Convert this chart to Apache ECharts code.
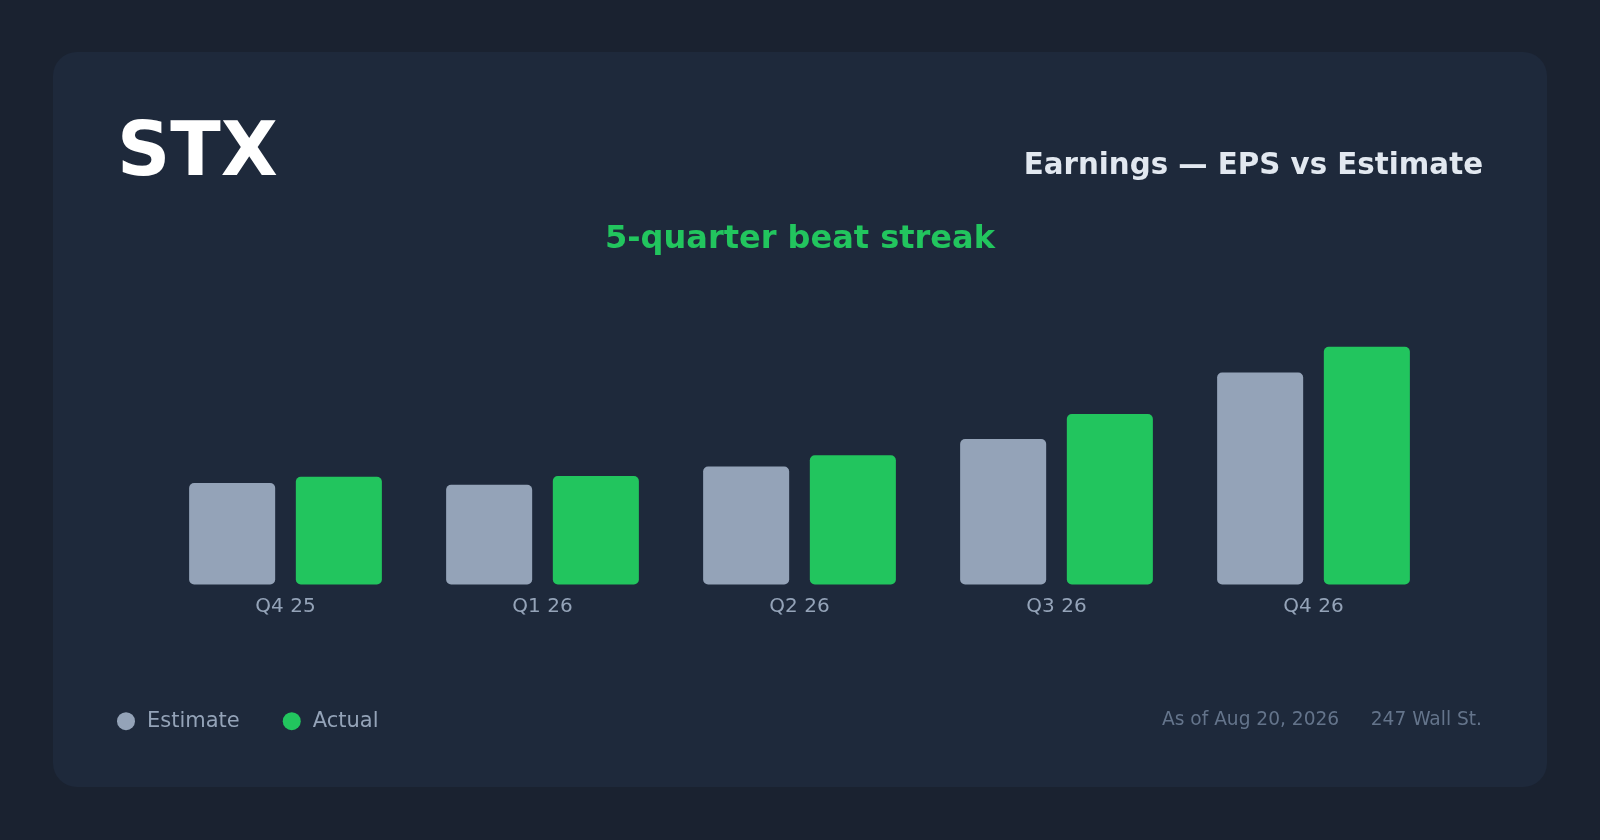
<!DOCTYPE html>
<html>
<head>
<meta charset="utf-8">
<title>STX Earnings</title>
<script src="https://cdn.jsdelivr.net/npm/echarts@6/dist/echarts.min.js"></script>
<style>
    html, body { margin: 0; padding: 0; background: #1a2230; }
    #chart { width: 1600px; height: 840px; }
</style>
</head>
<body>
<div id="chart"></div>
<script>
// quarters and EPS ($)
const quarters = ['Q4 25', 'Q1 26', 'Q2 26', 'Q3 26', 'Q4 26'];
const estimate = [2.44, 2.40, 2.84, 3.50, 5.10];
const actual = [2.59, 2.61, 3.11, 4.10, 5.72];

const font = 'DejaVu Sans';

let chart = echarts.init(document.getElementById('chart'));
chart.setOption({
    backgroundColor: '#1a2230',
    animation: false,
    textStyle: { fontFamily: font },
    graphic: [
        // card
        {
            type: 'rect', z: -10,
            shape: { x: 53, y: 52, width: 1494, height: 735, r: 24 },
            style: { fill: '#1e293b' }
        },
        {
            type: 'text', x: 117, y: 156,
            style: { text: 'STX', fill: '#ffffff', font: 'bold 74px "DejaVu Sans"', verticalAlign: 'middle' }
        },
        {
            type: 'text', x: 1483, y: 166.7,
            style: { text: 'Earnings — EPS vs Estimate', fill: '#e2e8f0', font: 'bold 29.3px "DejaVu Sans"', align: 'right', verticalAlign: 'middle' }
        },
        {
            type: 'text', x: 800, y: 239.6,
            style: { text: '5-quarter beat streak', fill: '#22c55e', font: 'bold 32px "DejaVu Sans"', align: 'center', verticalAlign: 'middle' }
        },
        {
            type: 'text', x: 1162, y: 720.5,
            style: { text: 'As of Aug 20, 2026', fill: '#64748b', font: '18.6px "DejaVu Sans"', verticalAlign: 'middle' }
        },
        {
            type: 'text', x: 1482, y: 720.5,
            style: { text: '247 Wall St.', fill: '#64748b', font: '18.6px "DejaVu Sans"', align: 'right', verticalAlign: 'middle' }
        }
    ],
    legend: {
        left: 112, top: 705.7,
        icon: 'circle',
        itemWidth: 28, itemHeight: 18,
        itemGap: 43,
        data: ['Estimate', 'Actual'],
        textStyle: { color: '#94a3b8', fontSize: 21, fontFamily: font, padding: [0, 0, 0, 2] }
    },
    grid: { left: 157, right: 158, top: 293.5, bottom: 255.5 },
    xAxis: {
        type: 'category',
        data: quarters,
        axisLine: { show: false },
        axisTick: { show: false },
        axisLabel: { color: '#94a3b8', fontSize: 20, margin: 12, fontFamily: font }
    },
    yAxis: {
        type: 'value',
        min: 0, max: 7,
        show: false,
        splitLine: { show: false }
    },
    series: [
        {
            name: 'Estimate',
            type: 'bar',
            data: estimate,
            barCategoryGap: '25%',
            barGap: '24%',
            itemStyle: { color: '#94a3b8', borderRadius: 5 }
        },
        {
            name: 'Actual',
            type: 'bar',
            data: actual,
            barCategoryGap: '25%',
            barGap: '24%',
            itemStyle: { color: '#22c55e', borderRadius: 5 }
        }
    ]
});
</script>
</body>
</html>
